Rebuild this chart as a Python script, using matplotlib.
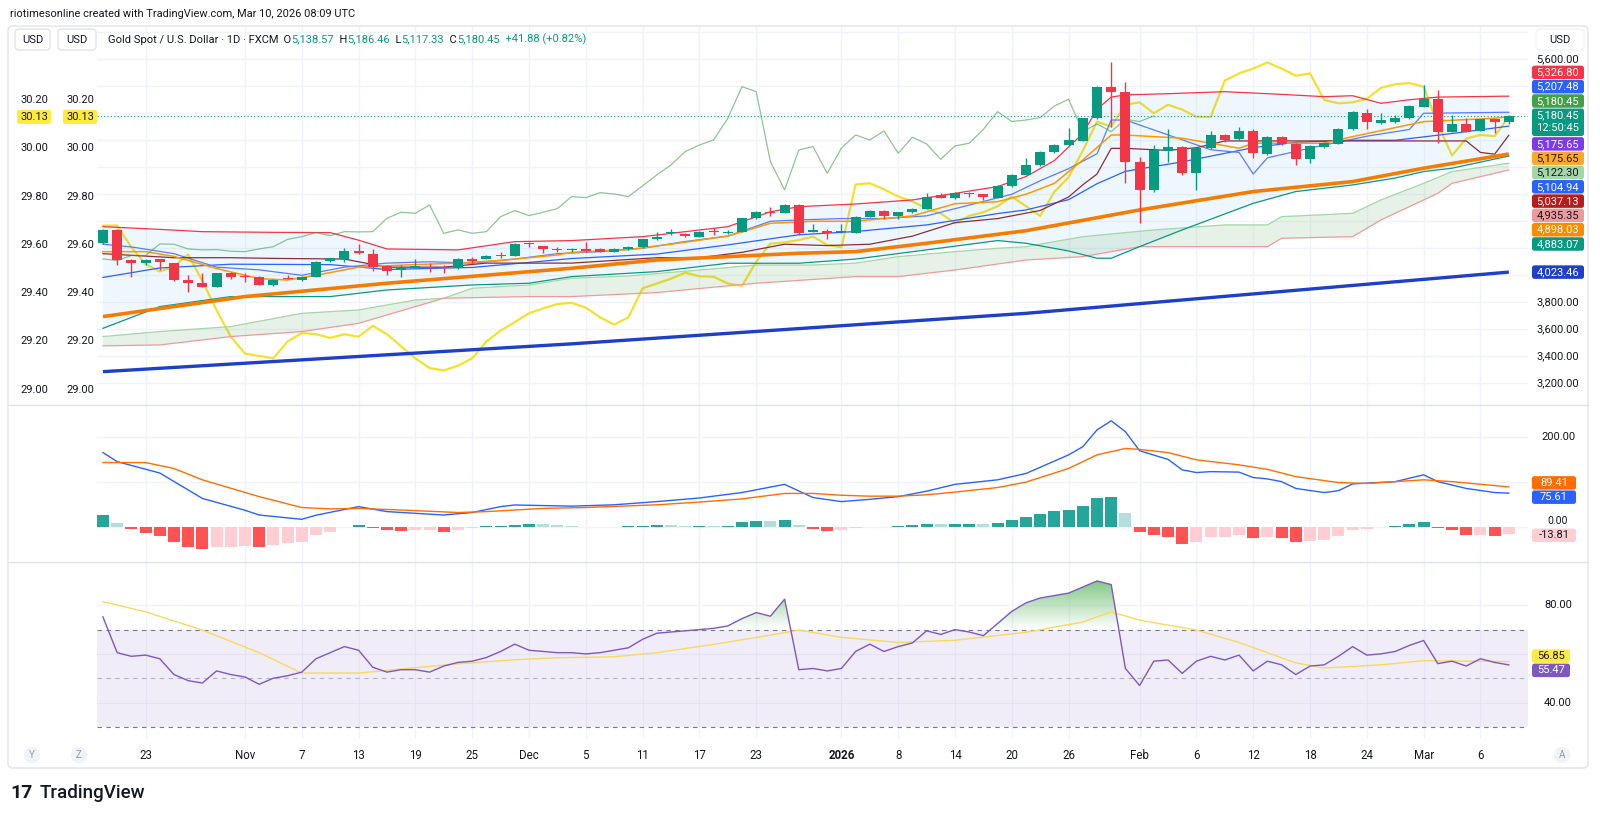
import matplotlib.pyplot as plt
import matplotlib.patches as mpatches
import matplotlib.transforms as mtrans
from matplotlib.lines import Line2D
from matplotlib.path import Path
from matplotlib.colors import LinearSegmentedColormap
import numpy as np

plt.rcParams['font.family'] = ['Roboto', 'DejaVu Sans']

# Kerzen (Tagesbalken 20.10.2025 - 10.03.2026)
opens = [4237, 4336, 4113, 4089, 4118, 4089, 3965, 3941, 3916, 4020,
         3995, 3990, 3928, 3983, 3965, 3990, 4106, 4118, 4183, 4158,
         4069, 4039, 4059, 4064, 4064, 4052, 4118, 4121, 4153, 4146,
         4237, 4217, 4193, 4188, 4193, 4193, 4173, 4193, 4212, 4266,
         4311, 4306, 4286, 4331, 4316, 4323, 4427, 4472, 4464, 4521,
         4323, 4328, 4318, 4316, 4434, 4479, 4442, 4467, 4491, 4595,
         4570, 4612, 4600, 4575, 4659, 4743, 4817, 4916, 4965, 4997,
         5163, 5392, 5360, 4842, 4632, 4923, 4953, 4755, 4941, 5039,
         5007, 5071, 4899, 5022, 4973, 4859, 4953, 4973, 5081, 5205,
         5126, 5138, 5163, 5249, 5304, 5064, 5121, 5071, 5155, 5138.57]
highs = [4345, 4340, 4118, 4118, 4121, 4094, 4002, 4020, 4020, 4025,
         4015, 3995, 3970, 4002, 3995, 4106, 4130, 4200, 4232, 4195,
         4075, 4076, 4118, 4089, 4076, 4126, 4138, 4150, 4170, 4237,
         4249, 4220, 4212, 4200, 4249, 4200, 4200, 4220, 4270, 4320,
         4340, 4316, 4330, 4350, 4336, 4425, 4475, 4505, 4530, 4525,
         4380, 4340, 4380, 4440, 4482, 4484, 4470, 4500, 4610, 4610,
         4617, 4615, 4605, 4665, 4750, 4870, 4920, 4970, 5089, 5168,
         5400, 5583, 5434, 4879, 4965, 5081, 4960, 4950, 5070, 5050,
         5101, 5080, 5030, 5030, 4980, 4965, 4990, 5090, 5220, 5230,
         5200, 5187, 5260, 5410, 5373, 5188, 5163, 5160, 5160, 5186.46]
lows = [4230, 4076, 3990, 4076, 4039, 3960, 3879, 3910, 3910, 3970,
        3953, 3925, 3922, 3970, 3960, 3985, 4100, 4101, 4158, 4032,
        4002, 3990, 4052, 4027, 4020, 4048, 4089, 4118, 4126, 4140,
        4212, 4163, 4175, 4170, 4173, 4170, 4170, 4188, 4205, 4262,
        4296, 4282, 4282, 4300, 4306, 4318, 4420, 4440, 4460, 4300,
        4320, 4270, 4316, 4311, 4430, 4420, 4415, 4460, 4488, 4570,
        4565, 4580, 4560, 4570, 4655, 4740, 4810, 4905, 4960, 4992,
        5160, 5100, 4681, 4385, 4620, 4842, 4745, 4632, 4935, 4990,
        5000, 4867, 4890, 4965, 4817, 4830, 4945, 4970, 5075, 5081,
        5120, 5130, 5158, 5245, 4978, 5060, 5060, 5066, 5052, 5117.33]
closes = [4336, 4113, 4089, 4113, 4096, 3965, 3941, 3916, 4015, 3990,
          3985, 3928, 3965, 3975, 3990, 4101, 4126, 4183, 4163, 4064,
          4034, 4057, 4069, 4057, 4052, 4121, 4109, 4146, 4146, 4232,
          4230, 4195, 4188, 4190, 4178, 4175, 4195, 4212, 4266, 4286,
          4316, 4294, 4323, 4321, 4323, 4422, 4467, 4459, 4521, 4311,
          4336, 4311, 4323, 4434, 4479, 4442, 4467, 4494, 4583, 4575,
          4612, 4602, 4583, 4662, 4743, 4817, 4916, 4965, 5002, 5163,
          5397, 5360, 4842, 4632, 4928, 4953, 4755, 4941, 5039, 5002,
          5069, 4904, 5022, 4973, 4859, 4958, 4978, 5081, 5212, 5139,
          5150, 5168, 5254, 5304, 5064, 5121, 5064, 5155, 5139, 5180.45]

# gleitende Durchschnitte (Stuetzpunkte: Balkenindex, Wert)
sma200_x = [0, 33, 65, 99]
sma200_y = [3286, 3492, 3718, 4023.46]
sma50_x = [0, 10, 20, 33, 39, 49, 53, 58, 65, 73, 81, 88, 93, 99]
sma50_y = [3694, 3842, 3941, 4052, 4113, 4163, 4175, 4237, 4330, 4484, 4620, 4694, 4793, 4898.03]
ema_x = [0, 3, 5, 8, 11, 13, 15, 18, 21, 25, 28, 32, 33, 37, 40, 44, 47, 50, 53, 57, 60, 63,
         65, 67, 69, 71, 72, 76, 80, 81, 86, 88, 93, 98, 99]
ema_y = [4175, 4175, 4140, 4050, 3975, 3965, 4000, 4060, 4075, 4090, 4110, 4150, 4170, 4190,
         4230, 4290, 4385, 4400, 4400, 4440, 4530, 4545, 4600, 4681, 4854, 5039, 5039, 5015,
         4941, 4978, 4978, 5027, 5138, 5163, 5175.65]

# Bollinger-Baender
bb_up_x = [0, 4, 7, 12, 16, 18, 20, 25, 29, 33, 38, 44, 47, 49, 53, 57, 60, 63, 65, 67, 69,
           70, 71, 72, 75, 79, 83, 86, 88, 90, 92, 94, 99]
bb_up_y = [4360, 4340, 4323, 4318, 4316, 4260, 4195, 4188, 4249, 4257, 4286, 4360, 4470, 4508,
           4528, 4558, 4607, 4657, 4731, 4850, 5050, 5230, 5320, 5336, 5345, 5360, 5340, 5323,
           5330, 5274, 5300, 5320, 5326.80]
bb_lo_x = [0, 4, 9, 16, 20, 26, 30, 33, 39, 44, 49, 53, 58, 63, 65, 68, 70, 71, 73, 76, 81,
           84, 88, 91, 93, 95, 99]
bb_lo_y = [3607, 3768, 3842, 3842, 3891, 3928, 3941, 3990, 4027, 4089, 4089, 4120, 4188, 4257,
           4237, 4180, 4126, 4126, 4212, 4336, 4533, 4620, 4669, 4720, 4768, 4793, 4883.07]
bb_mid_x = [0, 4, 9, 16, 20, 26, 30, 33, 39, 44, 49, 53, 58, 63, 65, 68, 70, 72, 76, 81, 84,
            88, 91, 95, 99]
bb_mid_y = [3984, 4054, 4082, 4079, 4043, 4058, 4095, 4124, 4157, 4225, 4300, 4324, 4373, 4457,
            4484, 4560, 4678, 4770, 4840, 4945, 4985, 5000, 5000, 5050, 5104.94]

# Ichimoku
tenkan_x = [0, 2, 5, 8, 11, 14, 17, 20, 23, 26, 29, 32, 35, 38, 41, 44, 47, 49, 52, 55, 58,
            61, 64, 66, 68, 70, 71, 72, 78, 80, 81, 82, 86, 89, 92, 93, 99]
tenkan_y = [4230, 4210, 4160, 4060, 4040, 4000, 4060, 4090, 4100, 4090, 4120, 4160, 4175, 4200,
            4250, 4290, 4400, 4410, 4420, 4420, 4440, 4520, 4600, 4700, 4790, 4900, 5150, 5150,
            4930, 4910, 4750, 4870, 4965, 5030, 5080, 5200, 5207.48]
kijun_x = [0, 5, 9, 12, 17, 20, 24, 27, 30, 33, 36, 39, 42, 45, 48, 51, 54, 57, 60, 63, 66,
           68, 69, 70, 71, 72, 75, 77, 79, 83, 89, 96, 97, 98, 99]
kijun_y = [4160, 4130, 4130, 4125, 4120, 4060, 4060, 4090, 4090, 4090, 4110, 4130, 4130, 4170,
           4230, 4220, 4230, 4290, 4390, 4420, 4480, 4580, 4670, 4750, 4940, 4940, 4925, 4945,
           4995, 4995, 4995, 4995, 4910, 4897, 5037.13]
span_a_x = [0, 4, 9, 14, 18, 22, 24, 26, 30, 33, 37, 42, 46, 50, 53, 56, 60, 63, 65, 69, 74,
            79, 82, 83, 88, 90, 93, 95, 99]
span_a_y = [3546, 3583, 3620, 3718, 3743, 3817, 3830, 3904, 3928, 3978, 3995, 4039, 4076, 4076,
            4090, 4138, 4175, 4200, 4212, 4286, 4336, 4373, 4373, 4434, 4459, 4558, 4681, 4768, 4830]
span_b_x = [0, 4, 9, 14, 18, 22, 24, 30, 33, 39, 46, 53, 56, 60, 65, 69, 73, 82, 83, 88, 90,
            94, 95, 99]
span_b_y = [3477, 3484, 3546, 3583, 3644, 3768, 3830, 3842, 3842, 3872, 3941, 3990, 3990, 4039,
            4113, 4138, 4212, 4212, 4274, 4286, 4410, 4607, 4681, 4780]
lag_shift = 25

# gelbe Linie (linke Skala)
yellow = [29.68, 29.68, 29.59, 29.52, 29.49, 29.51, 29.56, 29.45, 29.33, 29.22,
          29.15, 29.14, 29.13, 29.20, 29.235, 29.23, 29.215, 29.23, 29.22, 29.265,
          29.23, 29.18, 29.13, 29.09, 29.08, 29.10, 29.13, 29.20, 29.245, 29.28,
          29.317, 29.337, 29.355, 29.36, 29.34, 29.30, 29.27, 29.30, 29.42, 29.44,
          29.46, 29.485, 29.47, 29.468, 29.44, 29.43, 29.53, 29.605, 29.61, 29.62,
          29.634, 29.60, 29.59, 29.85, 29.855, 29.83, 29.80, 29.78, 29.75, 29.73,
          29.69, 29.72, 29.735, 29.76, 29.80, 29.76, 29.72, 29.82, 29.88, 29.99,
          30.11, 30.09, 30.18, 30.19, 30.145, 30.18, 30.16, 30.13, 30.13, 30.28,
          30.31, 30.33, 30.355, 30.33, 30.30, 30.31, 30.20, 30.186, 30.19, 30.205,
          30.25, 30.265, 30.27, 30.255, 30.10, 29.97, 30.04, 30.055, 30.05, 30.13]

# MACD
macd_x = [0, 1, 4, 7, 10, 11, 14, 15, 18, 20, 24, 26, 28, 29, 33, 36, 39, 42, 45, 48, 50, 52,
          54, 56, 58, 60, 63, 65, 68, 69, 70, 71, 72, 73, 75, 76, 77, 78, 80, 81, 82, 83, 84,
          86, 87, 88, 91, 93, 94, 96, 98, 99]
macd_y = [165, 145, 120, 64, 38, 27.5, 18, 27, 46, 35, 27.5, 33, 46, 49.6, 47, 50, 57, 65, 77,
          95, 66, 57, 62, 68, 80, 95, 105, 119, 160, 178, 215, 235, 211, 169, 150, 127, 121,
          123, 122, 110, 107, 101, 86, 77, 81, 96, 101, 116, 101, 86, 77, 75.61]
signal_x = [0, 3, 5, 7, 11, 14, 16, 18, 21, 25, 27, 31, 34, 39, 42, 45, 48, 50, 52, 54, 56,
            58, 60, 63, 65, 68, 70, 72, 73, 75, 77, 80, 82, 84, 87, 89, 93, 95, 99]
signal_y = [143, 143, 130, 105, 68, 44, 41, 42, 38.5, 33, 35, 42, 44, 50, 56, 63, 75, 75, 71,
            69, 69, 72, 78, 88, 100, 130, 160, 174, 172, 165, 149, 138, 128, 112, 99, 97, 105,
            101, 89.41]
hist = [28, 9.5, -3.7, -12.5, -18.4, -33, -42, -48, -43, -42,
        -40, -42, -38, -34.5, -31, -16, -9, 2, 6, -1,
        -6.6, -7.3, -6.6, -6.6, -10.3, -5, -2.2, 2.2, 2.2, 6,
        8, 7.3, 4.4, 3, 1.5, 1.5, 1.5, 2.5, 4, 5,
        4.5, 4, 4, 3.5, 4, 12, 15, 14, 17, 5,
        -3, -7, -6, -1, 2, 2, 3, 5, 8, 7,
        8, 8, 7, 9.5, 17, 23, 30, 36, 39, 48,
        64, 68, 33, -9, -16, -20, -36, -31, -21, -21,
        -16, -23.5, -20, -23.5, -32, -29, -27, -18, -5, -3,
        1.5, 3, 6.6, 12.5, -0.8, -6.6, -16, -16, -18.4, -13.81]

# RSI
rsi = [75.2, 60.5, 59.0, 59.5, 58.0, 51.5, 49.0, 48.0, 53.0, 51.5,
       50.5, 47.5, 50.0, 51.0, 52.5, 58.0, 60.5, 63.0, 61.5, 54.5,
       52.5, 53.5, 53.5, 52.5, 55.0, 56.5, 57.0, 58.5, 61.0, 64.0,
       61.5, 61.0, 60.5, 60.5, 60.0, 60.5, 61.5, 62.5, 66.0, 68.5,
       69.0, 69.5, 70.0, 70.5, 71.5, 74.5, 77.0, 75.5, 82.5, 53.5,
       54.0, 53.0, 54.0, 61.0, 64.0, 61.0, 63.0, 64.5, 69.5, 68.0,
       70.0, 69.0, 67.5, 72.5, 77.5, 81.0, 83.0, 84.0, 85.0, 87.5,
       90.0, 88.5, 54.0, 47.0, 57.0, 57.5, 52.0, 57.0, 59.0, 57.5,
       59.5, 53.0, 57.0, 55.5, 51.5, 55.0, 55.5, 59.0, 63.0, 59.5,
       60.0, 61.0, 63.5, 65.5, 56.0, 57.0, 55.0, 58.0, 56.5, 55.47]
rsi_ma_x = [0, 3, 7, 11, 14, 18, 21, 25, 29, 32, 36, 39, 43, 47, 49, 52, 56, 60, 65, 69, 71,
            73, 77, 80, 84, 86, 90, 93, 99]
rsi_ma_y = [81.5, 77.3, 69.8, 60.5, 52.1, 52.1, 53.8, 55.9, 57.6, 58.4, 58.8, 60.5, 63.9, 67.7,
            69.8, 66.8, 64.7, 65.6, 68.9, 73.1, 77.3, 73.9, 69.8, 64.7, 56.3, 54.2, 55.5, 57.2, 56.85]

# Zeitachse
tick_idx = [3, 10, 14, 18, 22, 26, 30, 34, 38, 42, 46, 52, 56, 60, 64, 68, 73, 77, 81, 85, 89, 93, 97]
tick_lbl = ['23', 'Nov', '7', '13', '19', '25', 'Dec', '5', '11', '17', '23', '2026',
            '8', '14', '20', '26', 'Feb', '6', '12', '18', '24', 'Mar', '6']
left_ticks = [29.00, 29.20, 29.40, 29.60, 29.80, 30.00, 30.20]
price_ticks = [3200, 3400, 3600, 3800, 5600]
price_grid = [3200, 3400, 3600, 3800, 4000, 4200, 4400, 4600, 4800, 5000, 5200, 5400, 5600, 5800]

# Preisschilder rechts (Text, Hintergrund, Schrift)
side_labels = [('5,326.80', '#f23645', 'white'), ('5,207.48', '#2962ff', 'white'),
               ('5,180.45', '#43a047', 'white'), ('5,180.45\n12:50:45', '#089981', 'white'),
               ('5,175.65', '#7b3bec', 'white'), ('5,175.65', '#ffa726', '#131722'),
               ('5,122.30', '#a5d6a7', '#131722'), ('5,104.94', '#2962ff', 'white'),
               ('5,037.13', '#b71c1c', 'white'), ('4,935.35', '#ef9a9a', '#131722'),
               ('4,898.03', '#fb8c00', 'white'), ('4,883.07', '#089981', 'white')]

W, H = 1600, 821
fig = plt.figure(figsize=(W / 100, H / 100), dpi=100)
fig.patch.set_facecolor('white')
PX = mtrans.IdentityTransform()
TXT = '#131722'
GRID = '#f0f3fa'


def rect(x0, y0, x1, y1):
    return [x0 / W, 1 - y1 / H, (x1 - x0) / W, (y1 - y0) / H]


def ptext(x, y, s, tr=PX, **kw):
    kw.setdefault('fontsize', 8)
    kw.setdefault('color', TXT)
    kw.setdefault('va', 'center')
    return fig.text(x, y, s, transform=tr, **kw)


def pbox(x0, y0, x1, y1, fc, ec='none', r=2.5, z=5):
    fig.add_artist(mpatches.FancyBboxPatch((x0, H - y1), x1 - x0, y1 - y0,
                                           boxstyle=f'round,pad=0,rounding_size={r}',
                                           fc=fc, ec=ec, lw=1, transform=PX, zorder=z))


def tag(yc, s, fc, tc, x0=1532, w=52, h=13.5):
    n = s.count('\n') + 1
    pbox(x0, yc - h / 2, x0 + w, yc - h / 2 + h * n + 0.5 * (n - 1), fc, z=6)
    for k, line in enumerate(s.split('\n')):
        ptext(x0 + w / 2, H - (yc + k * 12.3), line, ha='center', color=tc, zorder=7)


def spread(ys, gap=14.3):
    ys = list(ys)
    if abs(ys[1] - ys[0]) < gap:
        m = (ys[0] + ys[1]) / 2
        s = 1 if ys[1] >= ys[0] else -1
        ys = [m - s * gap / 2, m + s * gap / 2]
    return ys


# Rahmen
fig.add_artist(mpatches.FancyBboxPatch((8, H - 768), 1580, 742, boxstyle='round,pad=0,rounding_size=5',
                                       fc='none', ec='#e0e3eb', lw=1, transform=PX, zorder=1))
for ysep in (405, 562):
    fig.add_artist(Line2D([8, 1588], [H - ysep, H - ysep], color='#e0e3eb', lw=1, transform=PX))

ax_yel = fig.add_axes(rect(97, 27, 1528, 405))
ax = fig.add_axes(rect(97, 27, 1528, 405), sharex=ax_yel)
ax_macd = fig.add_axes(rect(97, 405, 1528, 562), sharex=ax_yel)
ax_rsi = fig.add_axes(rect(97, 562, 1528, 738), sharex=ax_yel)
ax_yel.set_zorder(0)
ax.set_zorder(1)
ax.patch.set_visible(False)
for a in (ax_yel, ax, ax_macd, ax_rsi):
    a.set_axis_off()
    a.set_xlim(-0.42, 100.35)
ax.set_ylim(3039, 5839)
ax_yel.set_ylim(28.937, 30.502)
ax_macd.set_ylim(-76, 269.8)
ax_rsi.set_ylim(25.4, 97.8)

# Gitter
for a in (ax_yel, ax_macd, ax_rsi):
    for t in tick_idx:
        a.axvline(t, color=GRID, lw=1, zorder=0)
for g in price_grid:
    ax_yel.axhline(ax_yel.transData.inverted().transform(ax.transData.transform((0, g)))[1],
                   color=GRID, lw=1, zorder=0)
for g in (0, 100, 200):
    ax_macd.axhline(g, color=GRID, lw=1, zorder=0)
for g in (40, 60, 80):
    ax_rsi.axhline(g, color=GRID, lw=1, zorder=0)

xi = np.arange(len(closes))

# gelbe Linie auf linker Skala
ax_yel.plot(xi, yellow, color='#f5e12c', lw=1.6, zorder=3)

# Flaechen
ax.fill(np.r_[bb_up_x, bb_lo_x[::-1]], np.r_[bb_up_y, bb_lo_y[::-1]], color='#2196f3', alpha=0.07, lw=0, zorder=1)
ax.fill(np.r_[span_a_x, span_b_x[::-1]], np.r_[span_a_y, span_b_y[::-1]], color='#43a047', alpha=0.13, lw=0, zorder=1)
ax.plot(span_a_x, span_a_y, color='#a5d6a7', lw=0.9, zorder=2)
ax.plot(span_b_x, span_b_y, color='#ef9a9a', lw=0.9, zorder=2)

# Linien
ax.plot(bb_up_x, bb_up_y, color='#f23645', lw=0.9, zorder=3)
ax.plot(bb_lo_x, bb_lo_y, color='#089981', lw=0.9, zorder=3)
ax.plot(bb_mid_x, bb_mid_y, color='#2962ff', lw=0.9, zorder=3)
ax.plot(tenkan_x, tenkan_y, color='#5b7cfa', lw=0.9, zorder=3)
ax.plot(kijun_x, kijun_y, color='#8d2c3a', lw=0.9, zorder=3)
ax.plot(ema_x, ema_y, color='#ff9800', lw=1.1, zorder=3)
ax.plot(xi[:len(closes) - lag_shift], closes[lag_shift:], color='#43a047', alpha=0.6, lw=0.9, zorder=3)
ax.plot(sma50_x, sma50_y, color='#f57c00', lw=2.6, zorder=4, solid_capstyle='butt')
ax.plot(sma200_x, sma200_y, color='#1e3fc8', lw=2.4, zorder=4, solid_capstyle='butt')
ax.axhline(closes[-1], color='#089981', ls=(0, (1, 2)), lw=0.8, zorder=4)

# Kerzen
o = np.array(opens)
c = np.array(closes)
col = np.where(c >= o, '#089981', '#f23645')
ax.vlines(xi, lows, highs, colors=col, lw=1, zorder=6)
ax.bar(xi, np.maximum(np.abs(c - o), 7), bottom=np.minimum(o, c), width=0.7, color=col, zorder=7)

# MACD
h = np.array(hist)
prev = np.r_[h[0], h[:-1]]
hcol = np.where(h >= 0, np.where(h >= prev, '#26a69a', '#b2dfdb'),
                np.where(h < prev, '#ff5252', '#ffcdd2'))
ax_macd.bar(xi, h, width=0.85, color=hcol, zorder=2)
ax_macd.plot(macd_x, macd_y, color='#2962ff', lw=1, zorder=3)
ax_macd.plot(signal_x, signal_y, color='#ff6d00', lw=1, zorder=3)

# RSI
ax_rsi.axhspan(30, 70, color='#7e57c2', alpha=0.1, lw=0, zorder=1)
for lvl, al in ((70, 1), (50, 0.5), (30, 1)):
    ax_rsi.axhline(lvl, color='#787b86', alpha=al, ls=(0, (4, 4)), lw=0.8, zorder=2)
r = np.array(rsi)
ob = ax_rsi.fill_between(xi, r, 70, where=r > 70, interpolate=True, facecolor='none', lw=0)
cmap = LinearSegmentedColormap.from_list('ob', [(0.30, 0.69, 0.31, 0.0), (0.30, 0.69, 0.31, 0.85)])
img = ax_rsi.imshow(np.linspace(0, 1, 64).reshape(-1, 1), extent=[-0.42, 100.35, 70, 95],
                    origin='lower', aspect='auto', cmap=cmap, zorder=2)
img.set_clip_path(Path.make_compound_path(*ob.get_paths()), ax_rsi.transData)
ax_rsi.set_xlim(-0.42, 100.35)
ax_rsi.set_ylim(25.4, 97.8)
ax_rsi.plot(rsi_ma_x, rsi_ma_y, color='#f7d95c', lw=1, zorder=3)
ax_rsi.plot(xi, rsi, color='#7e57c2', lw=1, zorder=4)

# Kopfzeile
ptext(10, H - 14, 'riotimesonline created with TradingView.com, Mar 10, 2026 08:09 UTC', fontsize=7.9)
for bx0, bx1 in ((15, 50), (58, 96)):
    pbox(bx0, 29, bx1, 50, 'white', ec='#e0e3eb', r=4)
    ptext((bx0 + bx1) / 2, H - 39.5, 'USD', ha='center', fontsize=8, zorder=7)
pbox(1536, 29, 1584, 50, 'white', ec='#f0f3fa', r=4)
ptext(1560, H - 39.5, 'USD', ha='center', fontsize=8, zorder=7)

up_c = '#089981'
parts = [('Gold Spot / U.S. Dollar · 1D · FXCM', TXT), ('  O', TXT), ('5,138.57', up_c),
         ('  H', TXT), ('5,186.46', up_c), ('  L', TXT), ('5,117.33', up_c),
         ('  C', TXT), ('5,180.45', up_c), ('  +41.88 (+0.82%)', up_c)]
rend = fig.canvas.get_renderer()
xpos = 108
for s, cc in parts:
    t = ptext(xpos, H - 39.5, s, color=cc, fontsize=8)
    xpos += t.get_window_extent(renderer=rend).width

# linke Skalen
tr_left = mtrans.blended_transform_factory(PX, ax_yel.transData)
for v in left_ticks:
    for xc in (34, 80):
        ptext(xc, v, f'{v:.2f}', tr=tr_left, ha='center')
y_last = H - ax_yel.transData.transform((0, yellow[-1]))[1]
for bx0, bx1 in ((17, 51), (63, 97)):
    pbox(bx0, y_last - 7, bx1, y_last + 7, '#ffeb3b', r=2)
    ptext((bx0 + bx1) / 2, H - y_last, f'{yellow[-1]:.2f}', ha='center', zorder=7)

# rechte Skala
tr_main = mtrans.blended_transform_factory(PX, ax.transData)
for v in price_ticks:
    ptext(1558, v, f'{v:,.2f}', tr=tr_main, ha='center')
slot = 0
for s, fc, tc in side_labels:
    tag(72.4 + 14.3 * slot, s, fc, tc)
    slot += s.count('\n') + 1
tag(H - ax.transData.transform((0, sma200_y[-1]))[1], f'{sma200_y[-1]:,.2f}', '#1e3fc8', 'white')

tr_macd = mtrans.blended_transform_factory(PX, ax_macd.transData)
ptext(1558, 200, '200.00', tr=tr_macd, ha='center')
# Nulllinie: Beschriftung knapp ueber dem Histogramm-Schild
ptext(1558, H - (ax_macd.transData.transform((0, 0))[1] * -1 + H) + 1, '0.00', ha='center', va='bottom', fontsize=7.5)
ym = [H - ax_macd.transData.transform((0, v))[1] for v in (signal_y[-1], macd_y[-1])]
ym = spread(ym)
tag(ym[0], f'{signal_y[-1]:.2f}', '#ff6d00', 'white', x0=1532, w=44)
tag(ym[1], f'{macd_y[-1]:.2f}', '#2962ff', 'white', x0=1532, w=44)
y_h = H - ax_macd.transData.transform((0, hist[-1]))[1]
tag(y_h + 1.5, f'{hist[-1]:.2f}', '#ffcdd2', TXT, x0=1532, w=44)

tr_rsi = mtrans.blended_transform_factory(PX, ax_rsi.transData)
for v in (80, 40):
    ptext(1558, v, f'{v:.2f}', tr=tr_rsi, ha='center')
yr = [H - ax_rsi.transData.transform((0, v))[1] for v in (rsi_ma_y[-1], rsi[-1])]
yr = spread(yr)
tag(yr[0], f'{rsi_ma_y[-1]:.2f}', '#ffeb3b', TXT, x0=1532, w=38)
tag(yr[1], f'{rsi[-1]:.2f}', '#7e57c2', 'white', x0=1532, w=38)

# Zeitachse
tr_time = mtrans.blended_transform_factory(ax.transData, PX)
for t, s in zip(tick_idx, tick_lbl):
    ptext(t, H - 755, s, tr=tr_time, ha='center', fontsize=8.3,
          fontweight='bold' if s == '2026' else 'normal')
for xc, s in ((32, 'Y'), (79, 'Z'), (1562, 'A')):
    pbox(xc - 8, 747, xc + 8, 763, '#f0f3fa', r=8)
    ptext(xc, H - 755, s, ha='center', color='#9598a1', fontsize=7, zorder=7)

# Logo
ptext(10, H - 793, '17', fontsize=14, fontweight='bold', color=TXT)
ptext(40, H - 793, 'TradingView', fontsize=13.5, fontweight='medium', color=TXT)

plt.savefig('out.png', dpi=100)
